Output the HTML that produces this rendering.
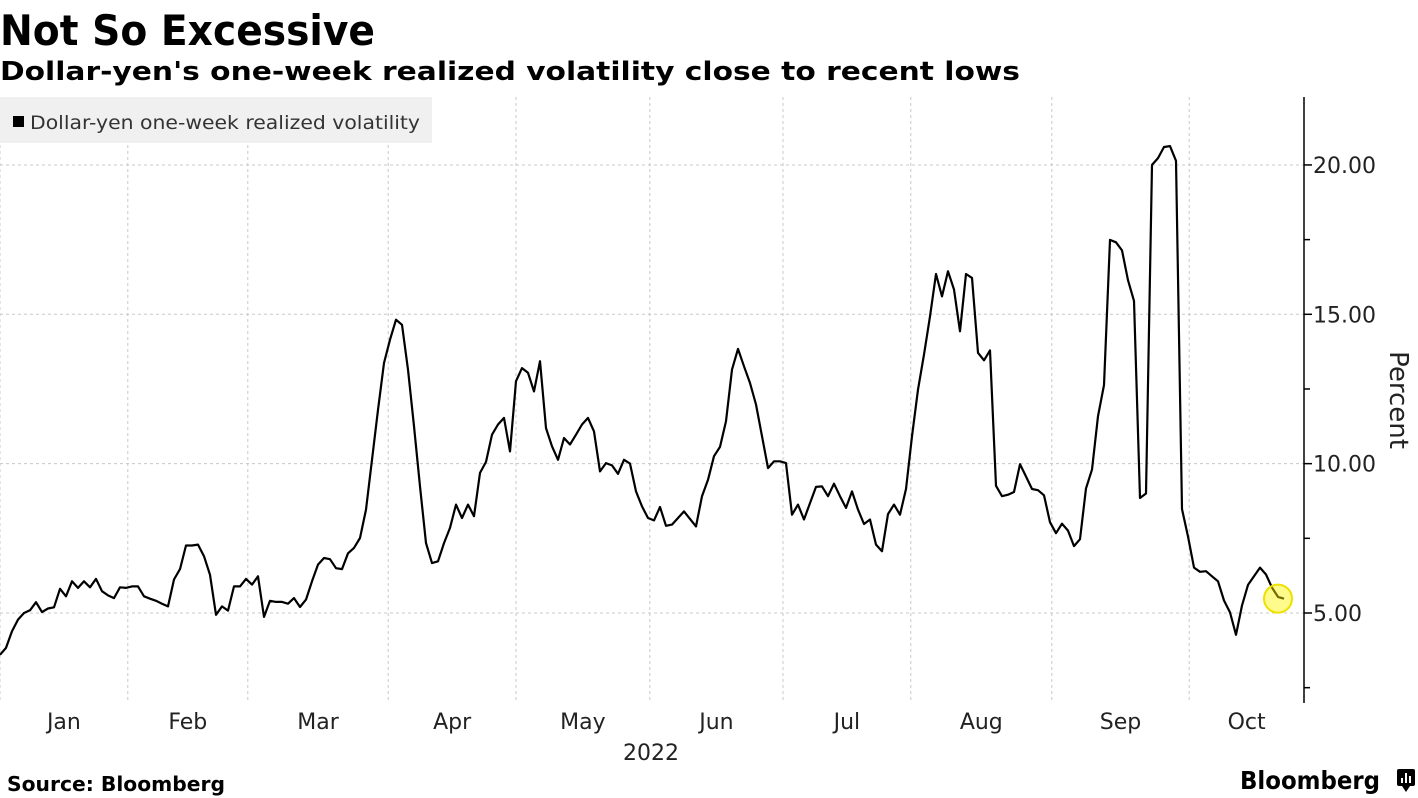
<!DOCTYPE html>
<html><head><meta charset="utf-8"><style>
html,body{margin:0;padding:0;background:#fff;}
svg{display:block;font-family:"DejaVu Sans","Liberation Sans",sans-serif;}
</style></head><body>
<svg id="chart" width="1418" height="798" viewBox="0 0 1418 798" xmlns="http://www.w3.org/2000/svg">
<text x="0" y="45" font-size="42" font-weight="bold" fill="#000" textLength="375" lengthAdjust="spacingAndGlyphs">Not So Excessive</text>
<text x="0" y="80" font-size="26" font-weight="bold" fill="#000" textLength="1020" lengthAdjust="spacingAndGlyphs">Dollar-yen's one-week realized volatility close to recent lows</text>
<g id="grid"></g>
<rect x="0" y="97" width="432" height="46" fill="#f0f0f0"/>
<rect x="13" y="116" width="11" height="11" fill="#000"/>
<text x="30" y="129" font-size="19" fill="#333" textLength="390" lengthAdjust="spacingAndGlyphs">Dollar-yen one-week realized volatility</text>
<g id="axes"></g>
<g id="series"></g>
<text transform="translate(1390,400) rotate(90)" text-anchor="middle" font-size="26" fill="#222">Percent</text>
<text x="651" y="760" text-anchor="middle" font-size="22" fill="#222">2022</text>
<text x="7" y="791" font-size="20" font-weight="bold" fill="#000" textLength="218" lengthAdjust="spacingAndGlyphs">Source: Bloomberg</text>
<text x="1240" y="789" font-size="25" font-weight="bold" fill="#000" textLength="140" lengthAdjust="spacingAndGlyphs">Bloomberg</text>
<g>
<rect x="1397" y="769" width="18" height="17" rx="2" fill="#000"/>
<path d="M1402 786 L1406 792 L1410 786 Z" fill="#000"/>
<rect x="1401" y="778" width="2" height="5" fill="#fff"/><rect x="1405" y="773" width="2" height="10" fill="#fff"/><rect x="1409" y="776" width="2" height="7" fill="#fff"/>
</g>
</svg>
<script>
const values = [3.6,3.83,4.39,4.78,5.0,5.09,5.36,5.03,5.15,5.19,5.81,5.56,6.06,5.84,6.06,5.86,6.14,5.73,5.59,5.5,5.86,5.84,5.89,5.89,5.56,5.48,5.41,5.31,5.22,6.12,6.47,7.26,7.26,7.29,6.9,6.28,4.94,5.22,5.08,5.89,5.89,6.14,5.95,6.23,4.87,5.41,5.37,5.37,5.31,5.5,5.2,5.45,6.06,6.62,6.84,6.8,6.5,
6.47,7.0,7.18,7.51,8.46,10.13,11.8,13.37,14.15,14.82,14.65,13.15,11.25,9.24,7.34,6.67,6.73,7.34,7.85,8.63,8.18,8.63,8.24,9.69,10.06,10.97,11.31,11.53,10.41,12.76,13.2,13.04,12.42,13.43,11.19,10.58,10.13,10.86,10.64,10.97,11.31,11.53,11.08,9.74,10.02,9.94,9.66,10.13,10.0,9.07,8.57,8.18,8.1,8.55,7.92,7.96,8.18,
8.4,8.15,7.9,8.91,9.46,10.25,10.56,11.42,13.15,13.84,13.26,12.7,11.98,10.92,9.85,10.08,10.08,10.02,8.29,8.63,8.13,8.68,9.22,9.24,8.91,9.33,8.91,8.52,9.07,8.46,7.98,8.13,7.29,7.07,8.31,8.63,8.29,9.15,10.92,12.48,13.65,14.93,16.35,15.6,16.44,15.83,14.43,16.35,16.22,13.71,13.46,13.79,9.26,8.91,8.96,
9.05,9.98,9.57,9.15,9.11,8.94,8.04,7.67,7.99,7.76,7.24,7.47,9.17,9.8,11.59,12.63,17.49,17.41,17.14,16.14,15.45,8.85,9.0,20.0,20.23,20.6,20.63,20.14,8.48,7.56,6.52,6.38,6.4,6.23,6.06,5.42,5.02,4.27,5.25,5.94,6.23,6.52,6.29,5.85,5.54,5.48];
const monthLabels = ["Jan","Feb","Mar","Apr","May","Jun","Jul","Aug","Sep","Oct"];
const monthStarts = [0,21.3,41.3,64.7,86,108.3,130.5,151.8,175.3,198.2];
const yTicks = [5,10,15,20];
const yMinorTicks = [2.5,7.5,12.5,17.5];
const yTickLabels = ["5.00","10.00","15.00","20.00"];

const NS="http://www.w3.org/2000/svg";
const plotTop=97, plotBottom=703, axisX=1304, pxPerIdx=6.0;
function xs(i){return i*pxPerIdx;}
function ys(v){return 613-(v-5)*29.87;}
function mk(tag,attrs,parent){const e=document.createElementNS(NS,tag);for(const k in attrs)e.setAttribute(k,attrs[k]);parent.appendChild(e);return e;}
const grid=document.getElementById('grid'), axes=document.getElementById('axes'), series=document.getElementById('series');
yTicks.forEach((t,k)=>{
  const g=mk('line',{x1:0,x2:axisX,y1:ys(t),y2:ys(t),stroke:'#c8c8c8','stroke-width':1,'stroke-dasharray':'3,3'},grid);
  
  
  const tk=mk('line',{x1:axisX,x2:axisX+8,y1:ys(t),y2:ys(t),stroke:'#000','stroke-width':1.5},axes);
  
  
  const lb=mk('text',{x:axisX+9,y:ys(t)+8,'font-size':22,fill:'#222'},axes);
  lb.textContent=yTickLabels[k];
  
  
});
yMinorTicks.forEach(t=>{
  const tk=mk('line',{x1:axisX,x2:axisX+6,y1:ys(t),y2:ys(t),stroke:'#000','stroke-width':1.5},axes);
  
  
});
const al=mk('line',{x1:axisX,x2:axisX,y1:plotTop,y2:plotBottom,stroke:'#000','stroke-width':1.5},axes);


monthStarts.forEach((m,k)=>{
  const x=xs(m);
  const g=mk('line',{x1:x,x2:x,y1:plotTop,y2:plotBottom,stroke:'#c8c8c8','stroke-width':1,'stroke-dasharray':'3,3'},grid);
  
  
  const next=k+1<monthStarts.length?xs(monthStarts[k+1]):axisX;
  const lb=mk('text',{x:(x+next)/2,y:729,'text-anchor':'middle','font-size':22,fill:'#222'},grid);
  lb.textContent=monthLabels[k];
  
  
});
const d=values.map((v,i)=>(i?'L':'M')+xs(i).toFixed(1)+' '+ys(v).toFixed(1)).join(' ');
const p=mk('path',{d:d,fill:'none',stroke:'#000','stroke-width':2.2,'stroke-linejoin':'round'},series);


const li=values.length-1;
const c=mk('circle',{cx:xs(li)-6,cy:ys(values[li]),r:14,fill:'rgba(255,245,0,0.45)',stroke:'#eee000','stroke-width':2},series);


</script>
</body></html>
